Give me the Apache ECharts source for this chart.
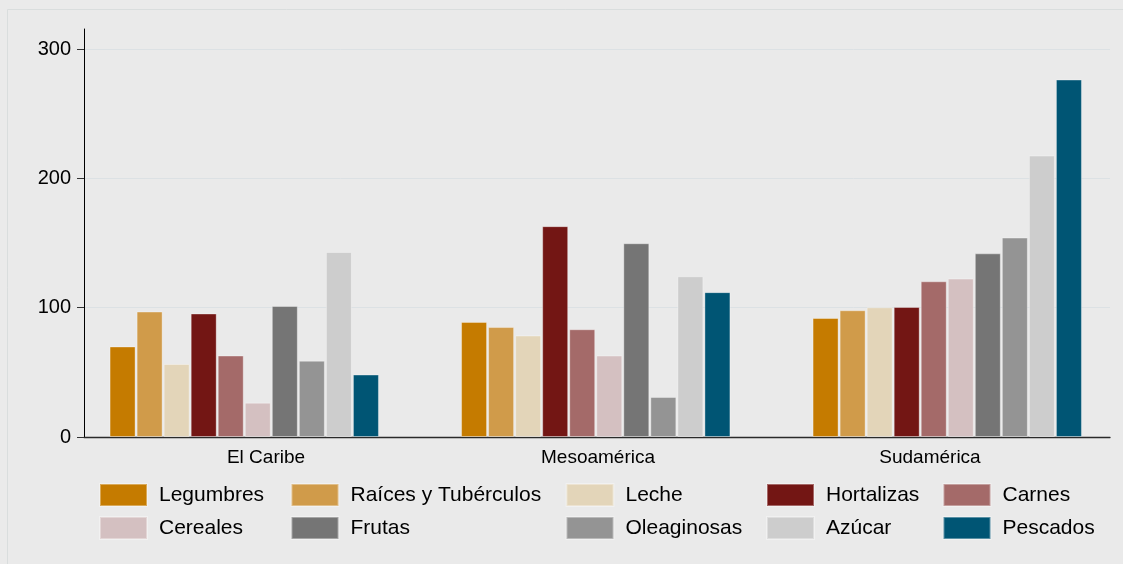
<!DOCTYPE html>
<html>
<head>
<meta charset="utf-8">
<script src="https://cdn.jsdelivr.net/npm/echarts@6/dist/echarts.min.js"></script>
<style>html,body{margin:0;padding:0;background:#eaeaea;}#chart{width:1123px;height:564px;}</style>
</head>
<body>
<div id="chart"></div>
<script>
const regions = ['El Caribe', 'Mesoamérica', 'Sudamérica'];
const yTicks = [0, 100, 200, 300];
const seriesNames = ['Legumbres', 'Raíces y Tubérculos', 'Leche', 'Hortalizas', 'Carnes', 'Cereales', 'Frutas', 'Oleaginosas', 'Azúcar', 'Pescados'];
const legumbres = [70, 89, 92];
const raices = [97, 85, 98];
const leche = [56.5, 78.5, 100.3];
const hortalizas = [95.5, 163, 100.5];
const carnes = [63, 83.3, 120.4];
const cereales = [26.5, 63, 122.5];
const frutas = [101.3, 149.8, 142];
const oleaginosas = [59, 31, 154.2];
const azucar = [143, 124.3, 217.6];
const pescados = [48.3, 112, 276.4];
const seriesValues = [legumbres, raices, leche, hortalizas, carnes, cereales, frutas, oleaginosas, azucar, pescados];
const colors = ['#c57b00', '#d09b4a', '#e3d5b9', '#731614', '#a46a69', '#d4c0c1', '#757575', '#949494', '#cdcdcd', '#005574'];

const font = '"Liberation Sans", Arial, Helvetica, sans-serif';
const yMin = yTicks[0], yMax = yTicks[yTicks.length - 1], yInt = yTicks[1] - yTicks[0];

const legendCols = [
  {names: [seriesNames[0], seriesNames[5]], left: 99},
  {names: [seriesNames[1], seriesNames[6]], left: 290.5},
  {names: [seriesNames[2], seriesNames[7]], left: 565.5},
  {names: [seriesNames[3], seriesNames[8]], left: 766},
  {names: [seriesNames[4], seriesNames[9]], left: 942.5}
];

const chart = echarts.init(document.getElementById('chart'), null, {renderer: 'canvas'});
const option = {
  backgroundColor: '#eaeaea',
  animation: false,
  color: colors,
  textStyle: {fontFamily: font},
  graphic: [{
    type: 'rect', silent: true, z: -10,
    shape: {x: 7.5, y: 9.5, width: 1200, height: 600},
    style: {fill: 'none', stroke: '#d9dddd', lineWidth: 1}
  }],
  grid: [
    {left: 68.5, width: 1056, top: 49, height: 388},
    {left: 84, width: 1026, top: 49, height: 388},
    {left: 84, width: 1026, top: 29, height: 408},
    {left: 100, width: 996, top: 49, height: 388}
  ],
  xAxis: [
    {gridIndex: 0, type: 'category', data: regions, show: false},
    {gridIndex: 1, type: 'category', data: regions, axisLine: {show: true, lineStyle: {color: '#2a2a2a', width: 1.3}}, axisTick: {show: false}, axisLabel: {show: false}, splitLine: {show: false}},
    {gridIndex: 2, type: 'category', data: regions, show: false},
    {gridIndex: 3, type: 'category', data: regions, axisLine: {show: false}, axisTick: {show: false},
      axisLabel: {show: true, color: '#000', fontSize: 19, fontFamily: font, margin: 11}}
  ],
  yAxis: [
    {gridIndex: 0, type: 'value', min: yMin, max: yMax, interval: yInt, show: false, splitLine: {show: false}},
    {gridIndex: 1, type: 'value', min: yMin, max: yMax, interval: yInt,
      axisLine: {show: false}, axisTick: {show: true, length: 7, lineStyle: {color: '#333'}},
      axisLabel: {color: '#000', fontSize: 20, fontFamily: font, margin: 13},
      splitLine: {show: true, lineStyle: {color: '#dce1e4', width: 1}}},
    {gridIndex: 2, type: 'value', min: yMin, max: yMax, axisLine: {show: true, lineStyle: {color: '#000', width: 1}},
      axisTick: {show: false}, axisLabel: {show: false}, splitLine: {show: false}},
    {gridIndex: 3, type: 'value', min: yMin, max: yMax, show: false, splitLine: {show: false}}
  ],
  legend: legendCols.map(c => ({
    data: c.names, orient: 'vertical', left: c.left, top: 483, padding: 0,
    itemWidth: 47, itemHeight: 22, itemGap: 9, icon: 'rect',
    textStyle: {color: '#000', fontSize: 21, fontFamily: font, padding: [0, 0, 0, 7]},
    selectedMode: false
  })),
  series: seriesNames.map((n, i) => ({
    name: n, type: 'bar', xAxisIndex: 0, yAxisIndex: 0,
    data: seriesValues[i], barWidth: 26, barGap: '4%', z: 5,
    itemStyle: {color: colors[i], borderColor: 'rgba(255,255,255,0.35)', borderWidth: 1}
  }))
};
chart.setOption(option);
</script>
</body>
</html>
